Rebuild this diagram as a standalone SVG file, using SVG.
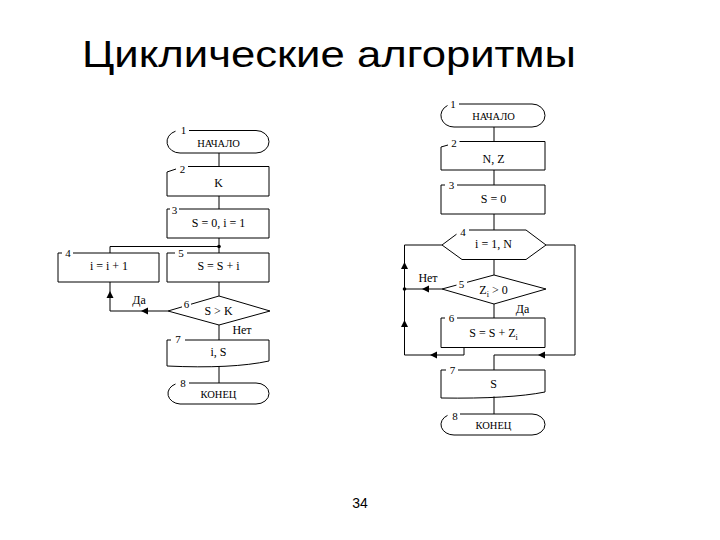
<svg xmlns="http://www.w3.org/2000/svg" xmlns:xlink="http://www.w3.org/1999/xlink" width="720" height="540" viewBox="0 0 720 540">
<style>
.ln{fill:none;stroke:#000;stroke-width:1}
.ah{fill:#000;stroke:none}
.t{font-family:"Liberation Serif","Times New Roman",serif;font-size:12px;text-anchor:middle;fill:#000}
.tt{font-family:"Liberation Serif","Times New Roman",serif;font-size:10.5px;text-anchor:middle;fill:#000}
.n{font-family:"Liberation Serif","Times New Roman",serif;font-size:11px;text-anchor:middle;fill:#000}
.title{font-family:"Liberation Sans",Arial,sans-serif;font-size:37px;fill:#000}
.pg{font-family:"Liberation Sans",Arial,sans-serif;font-size:14px;text-anchor:middle;fill:#000}
</style>
<defs>
<path id="aL" d="M0,0 L7,-3.5 L7,3.5 Z"/>
<path id="aU" d="M0,0 L-3.5,7 L3.5,7 Z"/>
</defs>
<rect width="720" height="540" fill="#fff"/>
<text class="title" x="82" y="67" textLength="494" lengthAdjust="spacingAndGlyphs">Циклические алгоритмы</text>
<text class="pg" x="360" y="508">34</text>

<!-- Left flowchart -->
<g id="L1">
<path class="ln" d="M189,130.5 H256 A13,11.25 0 0 1 256,153 H180 A13,11.25 0 0 1 175.5,131.2"/>
<text class="n" x="183.5" y="134">1</text>
<text class="tt" x="218.5" y="146.5">НАЧАЛО</text>
</g>
<g id="L2">
<path class="ln" d="M188,166.5 H269 V196 H167 V172 L176,169"/>
<text class="n" x="182.5" y="173">2</text>
<text class="t" x="218.5" y="186.5">K</text>
</g>
<g id="L3">
<path class="ln" d="M179,209 H269 V238 H167 V209 H170"/>
<text class="n" x="174.5" y="213.5">3</text>
<text class="t" x="218.5" y="227">S = 0, i = 1</text>
</g>
<g id="L4">
<path class="ln" d="M73,253 H159 V282 H58 V253 H62"/>
<text class="n" x="68" y="257">4</text>
<text class="t" x="109" y="270">i = i + 1</text>
</g>
<g id="L5">
<path class="ln" d="M187,253 H269 V282 H167 V253 H175"/>
<text class="n" x="181" y="257">5</text>
<text class="t" x="218.5" y="270">S = S + i</text>
</g>
<g id="L6">
<path class="ln" d="M191,304.2 L219,296 L270,311 L219,325 L168,311 L182,306.9"/>
<text class="n" x="186.5" y="308">6</text>
<text class="t" x="218.5" y="315">S &gt; K</text>
</g>
<g id="L7">
<path class="ln" d="M185,340 H269 V361 Q232,369 167,366 V340 H171"/>
<text class="n" x="178" y="342.5">7</text>
<text class="t" x="218.5" y="356">i, S</text>
</g>
<g id="L8">
<path class="ln" d="M189,383 H256 A13,10.5 0 0 1 256,404 H180 A13,10.5 0 0 1 175.5,384"/>
<text class="n" x="183" y="386.5">8</text>
<text class="tt" x="218.5" y="397.5">КОНЕЦ</text>
</g>

<!-- Right flowchart -->
<g id="R1">
<path class="ln" d="M459,104 H532 A13,11.5 0 0 1 532,127 H454 A13,11.5 0 0 1 447.5,105.5"/>
<text class="n" x="453" y="107.5">1</text>
<text class="tt" x="493.5" y="120">НАЧАЛО</text>
</g>
<g id="R2">
<path class="ln" d="M459.5,141.5 H545 V170 H441 V147 L448,145"/>
<text class="n" x="454" y="146.5">2</text>
<text class="t" x="493.5" y="162.5">N, Z</text>
</g>
<g id="R3">
<path class="ln" d="M457,185 H545 V214 H441 V185 H445"/>
<text class="n" x="451.5" y="189">3</text>
<text class="t" x="493.5" y="202.5">S = 0</text>
</g>
<g id="R4">
<path class="ln" d="M469,230 H526 L546,245 L526,259.5 H462 L442,245 L456.5,234.2"/>
<text class="n" x="463" y="235.5">4</text>
<text class="t" x="493.5" y="247.5">i = 1, N</text>
</g>
<g id="R5">
<path class="ln" d="M467,282.3 L494,275 L546,289 L494,304 L442,289 L456.5,285.1"/>
<text class="n" x="461.5" y="288">5</text>
<text class="t" x="493.5" y="293.5">Z<tspan font-size="8" dy="3">i</tspan><tspan dy="-3"> &gt; 0</tspan></text>
</g>
<g id="R6">
<path class="ln" d="M457,318 H545 V347.5 H441 V318 H445"/>
<text class="n" x="451.5" y="322">6</text>
<text class="t" x="493.5" y="336.5">S = S + Z<tspan font-size="8" dy="3">i</tspan></text>
</g>
<g id="R7">
<path class="ln" d="M458,370 H545 V392 Q510,399 441,398 V370 H446"/>
<text class="n" x="452.5" y="374">7</text>
<text class="t" x="493.5" y="387.5">S</text>
</g>
<g id="R8">
<path class="ln" d="M460,414 H532 A13,10.5 0 0 1 532,435 H454 A13,10.5 0 0 1 447.5,415.4"/>
<text class="n" x="455" y="420">8</text>
<text class="tt" x="493.5" y="428.5">КОНЕЦ</text>
</g>

<g id="connectors">
<!-- left -->
<path class="ln" d="M219,153 V166.5 M219,196 V209 M219,238 V253 M110,246.5 H219 M110,246.5 V253 M219,282 V296 M219,325 V340 M219,366.5 V383"/>
<path class="ln" d="M168,311 H110 V282"/>
<circle cx="219" cy="246.5" r="1.8" class="ah"/>
<use xlink:href="#aL" x="141" y="311" class="ah"/>
<use xlink:href="#aU" x="110" y="291" class="ah"/>
<text class="t" x="139" y="304">Да</text>
<text class="t" x="242" y="334">Нет</text>
<!-- right -->
<path class="ln" d="M494,127 V141.5 M494,170 V185 M494,214 V230 M494,259.5 V275 M494,304 V318 M494,396.5 V414"/>
<path class="ln" d="M442,245 H404.5 V355 H464 V347.5"/>
<path class="ln" d="M442,289 H404.5"/>
<path class="ln" d="M546,245 H575 V355 H494 V370"/>
<circle cx="404.5" cy="289" r="1.8" class="ah"/>
<use xlink:href="#aU" x="404.5" y="262" class="ah"/>
<use xlink:href="#aU" x="404.5" y="320" class="ah"/>
<use xlink:href="#aL" x="422" y="289" class="ah"/>
<use xlink:href="#aL" x="430" y="355" class="ah"/>
<use xlink:href="#aL" x="538" y="355" class="ah"/>
<text class="t" x="428" y="282">Нет</text>
<text class="t" x="522.5" y="313">Да</text>
</g>
</svg>
